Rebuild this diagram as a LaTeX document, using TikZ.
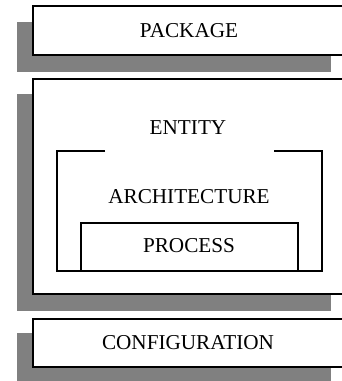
\documentclass[tikz,border=0pt]{standalone}
\usepackage{fontspec}
\setmainfont{Liberation Serif}
\tikzset{
  shadowbox/.style={fill=gray, draw=none},
  framebox/.style={draw=black, fill=white, line width=1.4pt},
  inbox/.style={draw=black, line width=1.1pt},
  label/.style={font=\fontsize{21.2}{24}\selectfont, inner sep=0pt}
}
\begin{document}
\begin{tikzpicture}[x=1pt, y=-1pt]
			\useasboundingbox (0,0) rectangle (342,381);
			\clip (0,0) rectangle (342,381);
			
			% Package block
			\fill[shadowbox] (17,22) rectangle (331,72);
			\draw[framebox] (33,6) rectangle (347,55);
			\node[label] (package) at (189,31) {PACKAGE};
			
			% Entity block, holding the architecture
			\fill[shadowbox] (17,94) rectangle (331,311);
			\draw[framebox] (33,79) rectangle (347,294);
			\node[label] (entity) at (188,128) {ENTITY};
			
			% Architecture frame (top edge open in the middle)
			\draw[inbox] (105,151) -- (57,151) -- (57,271) -- (322,271) -- (322,151) -- (274,151);
			\node[label] (arch) at (189,197) {ARCHITECTURE};
			
			% Process inside the architecture
			\draw[inbox] (81,271) -- (81,223) -- (298,223) -- (298,271);
			\node[label] (process) at (189,246) {PROCESS};
			
			% Configuration block
			\fill[shadowbox] (17,333) rectangle (331,384);
			\draw[framebox] (33,319) rectangle (347,367);
			\node[label] (config) at (188,343) {CONFIGURATION};
		\end{tikzpicture}
\end{document}
